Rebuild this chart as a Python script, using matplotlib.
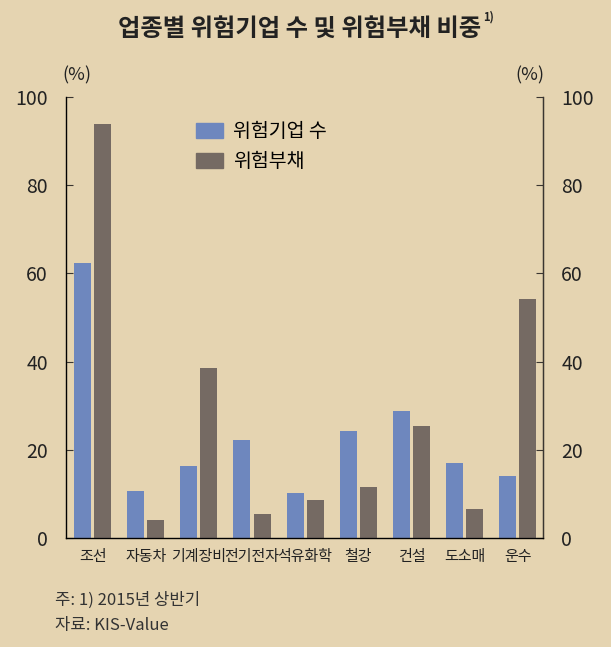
import numpy as np
import matplotlib.pyplot as plt
from matplotlib.patches import Patch

plt.rcParams['font.family'] = ['Noto Sans CJK KR', 'DejaVu Sans']

# data
categories = ['조선', '자동차', '기계장비', '전기전자', '석유화학', '철강', '건설', '도소매', '운수']
firms = [62.4, 10.7, 16.3, 22.2, 10.2, 24.3, 28.8, 17.0, 14.1]
debt = [93.9, 4.1, 38.5, 5.4, 8.6, 11.6, 25.4, 6.6, 54.2]
series_names = ['위험기업 수', '위험부채']
yticks = [0, 20, 40, 60, 80, 100]

bg = '#e5d4b1'
blue = '#6e87be'
gray = '#756a63'
dark = '#3a3530'

fig = plt.figure(figsize=(6.11, 6.47), dpi=100, facecolor=bg)
ax = fig.add_axes([0.108, 0.1685, 0.781, 0.6815], facecolor=bg)

x = np.arange(len(categories))
w = 0.32
ax.bar(x - 0.19, firms, w, color=blue)
ax.bar(x + 0.19, debt, w, color=gray)

ax.set_xlim(-0.5, 8.48)
ax.set_ylim(0, 100)
ax.set_xticks(x)
ax.set_xticklabels(categories, fontsize=10.8, color='#222222')
ax.tick_params(axis='x', length=0, pad=9)
ax.set_yticks(yticks)
ax.tick_params(axis='y', direction='in', length=5, color=dark, labelsize=14,
               labelcolor='#222222', pad=13)
ax.spines['top'].set_visible(False)
for s in ['left', 'right', 'bottom']:
    ax.spines[s].set_color(dark)
    ax.spines[s].set_linewidth(1.0)

ax2 = ax.twinx()
ax2.set_ylim(0, 100)
ax2.set_yticks(yticks)
ax2.tick_params(axis='y', direction='in', length=5, color=dark, labelsize=14,
                labelcolor='#222222', pad=13)
ax2.spines['top'].set_visible(False)
ax2.spines['right'].set_color(dark)

handles = [Patch(color=blue), Patch(color=gray)]
ax.legend(handles, series_names, loc='upper left', bbox_to_anchor=(0.235, 0.985),
          frameon=False, fontsize=14, handlelength=1.4, handleheight=0.8,
          labelspacing=0.45, handletextpad=0.5)

title = fig.text(0.491, 0.955, '업종별 위험기업 수 및 위험부채 비중', ha='center', va='center',
                 fontsize=17.5, fontweight='bold', color='#222222')
fig.canvas.draw()
ax.annotate('1)', xy=(1, 0.75), xycoords=title, xytext=(1, 0), textcoords='offset points',
            fontsize=8, fontweight='bold', color='#222222', va='bottom',
            annotation_clip=False)
fig.text(0.126, 0.884, '(%)', ha='center', va='center', fontsize=13, color='#222222')
fig.text(0.868, 0.884, '(%)', ha='center', va='center', fontsize=13, color='#222222')
fig.text(0.09, 0.073, '주: 1) 2015년 상반기', va='center', fontsize=12, color='#333333')
fig.text(0.09, 0.034, '자료: KIS-Value', va='center', fontsize=12, color='#333333')

fig.savefig('out.png', dpi=100, facecolor=bg)
